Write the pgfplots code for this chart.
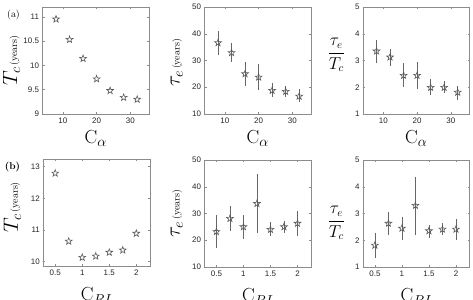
\documentclass[border=0pt]{standalone}
\usepackage{fontspec}
\setsansfont{Liberation Sans}
\usepackage{pgfplots}
\pgfplotsset{compat=1.18}
\usepackage{pgfplotstable}

% open five-pointed star
\pgfdeclareplotmark{pentagram}{%
  \pgfpathmoveto{\pgfpointpolar{90}{\pgfplotmarksize}}%
  \pgfpathlineto{\pgfpointpolar{126}{0.40\pgfplotmarksize}}%
  \pgfpathlineto{\pgfpointpolar{162}{\pgfplotmarksize}}%
  \pgfpathlineto{\pgfpointpolar{198}{0.40\pgfplotmarksize}}%
  \pgfpathlineto{\pgfpointpolar{234}{\pgfplotmarksize}}%
  \pgfpathlineto{\pgfpointpolar{270}{0.40\pgfplotmarksize}}%
  \pgfpathlineto{\pgfpointpolar{306}{\pgfplotmarksize}}%
  \pgfpathlineto{\pgfpointpolar{342}{0.40\pgfplotmarksize}}%
  \pgfpathlineto{\pgfpointpolar{18}{\pgfplotmarksize}}%
  \pgfpathlineto{\pgfpointpolar{54}{0.40\pgfplotmarksize}}%
  \pgfpathclose
  \pgfusepathqstroke
}

\pgfplotstableread{
x   tc
8   10.95
12  10.53
16  10.14
20  9.72
24  9.48
28  9.34
32  9.30
}\TcA
\pgfplotstableread{
x   te     ep    em
8   36.6   4.6   4.5
12  32.9   3.5   3.5
16  25.0   4.6   4.6
20  23.75  5.0   4.75
24  18.75  3.0   2.5
28  18.4   2.1   2.15
32  16.6   2.8   2.2
}\TeA
\pgfplotstableread{
x   r      ep    em
8   3.35   0.40  0.43
12  3.125  0.31  0.34
16  2.44   0.45  0.42
20  2.44   0.50  0.50
24  1.99   0.30  0.28
28  1.99   0.24  0.20
32  1.81   0.25  0.28
}\RA
\pgfplotstableread{
x     tc
0.5   12.79
0.75  10.64
1.0   10.13
1.25  10.17
1.5   10.29
1.75  10.36
2.0   10.89
}\TcB
\pgfplotstableread{
x     te    ep    em
0.5   23.2  6.1   6.1
0.75  28.1  4.7   4.8
1.0   25.0  4.5   4.4
1.25  33.7  11.2  11.1
1.5   24.0  2.8   2.5
1.75  25.0  2.3   2.4
2.0   26.3  4.5   4.7
}\TeB
\pgfplotstableread{
x     r      ep    em
0.5   1.81   0.47  0.49
0.75  2.63   0.44  0.45
1.0   2.445  0.44  0.44
1.25  3.30   1.08  1.10
1.5   2.35   0.23  0.26
1.75  2.41   0.22  0.23
2.0   2.41   0.39  0.40
}\RB

\pgfplotsset{
  panel/.style={
    scale only axis, width=106.5bp, height=107bp, anchor=south west,
    axis line style={black!45}, tick style={black!45, thin},
    major tick length=2bp, tick align=inside,
    ticklabel style={font=\sffamily\fontsize{8}{9}\selectfont, text=black!85},
    /pgf/number format/assume math mode=true,
    xlabel style={at={(axis description cs:0.5,0)}, anchor=north, yshift=-13bp,
      font=\fontsize{19}{21}\selectfont},
    ylabel style={at={(axis description cs:-0.29,0.5)}, anchor=center},
    clip=false,
  },
  toprow/.style={panel, xmin=4, xmax=35.5, xtick={10,20,30}, xlabel={$\mathrm{C}_\alpha$}},
  botrow/.style={panel, xmin=0.28, xmax=2.25, xtick={0.5,1,1.5,2},
    xlabel={$\mathrm{C}_{RI}$}, xlabel style={yshift=-5bp}},
  starmark/.style={only marks, mark=pentagram, mark size=3.6bp,
    mark options={black!65, line width=0.6pt}},
  errs/.style={only marks, mark=pentagram, mark size=3.6bp,
    mark options={black!65, line width=0.6pt}, black!60, line width=0.7pt,
    error bars/.cd, y dir=both, y explicit, error mark=none,
    error bar style={black!60, line width=0.7pt}},
}

\newcommand{\yrs}[1]{{\fontsize{20}{22}\selectfont$#1$}\,{\fontsize{10}{12}\selectfont(years)}}
\newcommand{\ratio}{{\fontsize{16}{18}\selectfont$\displaystyle\frac{\tau_e}{T_c}$}}

\begin{document}
\begin{tikzpicture}
% ---- row (a): dependence on C_alpha ----
\begin{axis}[toprow, at={(42.5bp,186bp)}, ymin=9, ymax=11.2,
  ytick={9,9.5,10,10.5,11}, yticklabel style={/pgf/number format/fixed},
  ylabel={\yrs{T_c}}, ylabel style={at={(axis description cs:-0.29,0.5)}}]
  \addplot[starmark] table[x=x,y=tc]{\TcA};
\end{axis}
\begin{axis}[toprow, at={(204.5bp,186bp)}, ymin=10, ymax=50, ytick={10,20,...,50},
  ylabel={\yrs{\tau_e}}, ylabel style={at={(axis description cs:-0.26,0.48)}}]
  \addplot[errs] table[x=x,y=te,y error plus=ep,y error minus=em]{\TeA};
\end{axis}
\begin{axis}[toprow, at={(363bp,186bp)}, ymin=1, ymax=5, ytick={1,...,5}]
  \addplot[errs] table[x=x,y=r,y error plus=ep,y error minus=em]{\RA};
  \node at (axis description cs:-0.25,0.55) {\ratio};
\end{axis}
% ---- row (b): dependence on C_RI ----
\begin{axis}[botrow, at={(43.3bp,34bp)}, ymin=9.86, ymax=13.24, ytick={10,11,12,13},
  ylabel={\yrs{T_c}}, ylabel style={at={(axis description cs:-0.29,0.55)}}]
  \addplot[starmark] table[x=x,y=tc]{\TcB};
\end{axis}
\begin{axis}[botrow, at={(204.5bp,33bp)}, ymin=10, ymax=50, ytick={10,20,...,50},
  ylabel={\yrs{\tau_e}}, ylabel style={at={(axis description cs:-0.26,0.5)}}]
  \addplot[errs] table[x=x,y=te,y error plus=ep,y error minus=em]{\TeB};
\end{axis}
\begin{axis}[botrow, at={(363bp,33bp)}, ymin=1, ymax=5, ytick={1,...,5}]
  \addplot[errs] table[x=x,y=r,y error plus=ep,y error minus=em]{\RB};
  \node at (axis description cs:-0.25,0.41) {\ratio};
\end{axis}
% panel tags
\node[font=\fontsize{10}{12}\selectfont] at (13.5bp,284.5bp) {(a)};
\node[font=\bfseries\fontsize{10}{12}\selectfont] at (12.5bp,133bp) {(b)};
\pgfresetboundingbox
\useasboundingbox (0bp,0bp) rectangle (473bp,300bp);
\end{tikzpicture}
\end{document}
